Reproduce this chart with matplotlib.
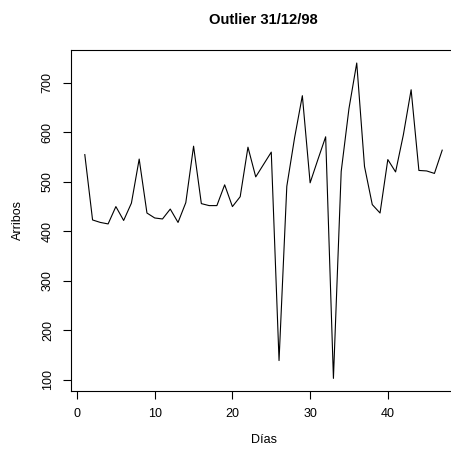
import matplotlib
matplotlib.use("Agg")
import matplotlib.pyplot as plt

# Datos
dias = list(range(1, 48))
arribos = [555, 423, 418, 415, 450, 422, 457, 546, 437, 427,
           425, 445, 418, 458, 572, 456, 452, 452, 494, 450,
           470, 570, 510, 535, 560, 139, 491, 589, 674, 498,
           545, 591, 103, 521, 648, 740, 531, 454, 437, 545,
           520, 595, 686, 523, 522, 517, 564]

plt.rcParams['font.family'] = ['Liberation Sans', 'DejaVu Sans']

fig = plt.figure(figsize=(4.51, 4.5), dpi=100)
W, H = 451, 450
# ejes al estilo R (4% de margen), el borde derecho queda fuera de la imagen
x0, x1 = 70.5, 456.5
y0, y1 = 391, 50.4
ax = fig.add_axes([x0 / W, (H - y0) / H, (x1 - x0) / W, (y0 - y1) / H])

ax.plot(dias, arribos, color='black', lw=0.8)

rx = max(dias) - min(dias)
ry = max(arribos) - min(arribos)
ax.set_xlim(min(dias) - 0.04 * rx, max(dias) + 0.04 * rx)
ax.set_ylim(min(arribos) - 0.04 * ry, max(arribos) + 0.04 * ry)

ax.set_xticks([0, 10, 20, 30, 40])
ax.set_yticks([100, 200, 300, 400, 500, 600, 700])
ax.tick_params(direction='out', length=6, width=0.8, labelsize=9, pad=6)
plt.setp(ax.get_yticklabels(), rotation=90, va='center')
for s in ax.spines.values():
    s.set_linewidth(0.8)
ax.spines['right'].set_visible(False)

fig.text((x0 + x1) / 2 / W, 1 - 20.5 / H, 'Outlier 31/12/98', ha='center', va='center',
         fontsize=10.6, fontweight='bold')
fig.text((x0 + x1) / 2 / W, 1 - 440 / H, 'Días', ha='center', va='center', fontsize=9)
fig.text(18 / W, 1 - 220 / H, 'Arribos', ha='center', va='center', rotation=90, fontsize=9)

fig.savefig('out.png', dpi=100)
